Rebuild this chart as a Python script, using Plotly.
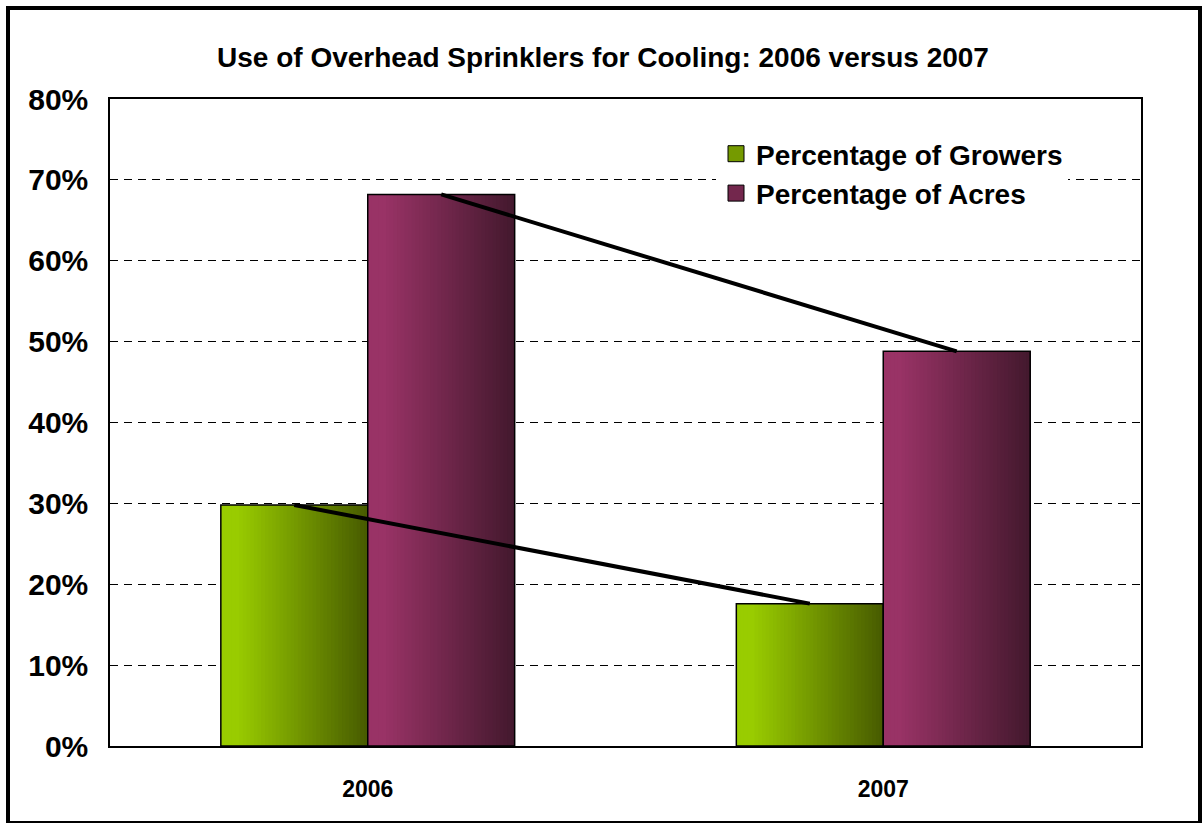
import plotly.graph_objects as go

# ---- data ----
categories = ["2006", "2007"]
growers = [0.298, 0.176]
acres = [0.682, 0.488]
series_names = ["Percentage of Growers", "Percentage of Acres"]

# ---- styling ----
FONT = "Liberation Sans, Arial, sans-serif"
W = 0.285          # width of one bar in category units
N = 40             # gradient strips per bar
green = ((0x99, 0xCC, 0x00), (0x48, 0x5C, 0x00))
purple = ((0x99, 0x33, 0x66), (0x44, 0x19, 0x2E))

L, R, T, B = 110, 61, 99, 77
WIDTH, HEIGHT = 1202, 823
pw, ph = WIDTH - L - R, HEIGHT - T - B


def lerp(c1, c2, t):
    return "rgb(%d,%d,%d)" % tuple(round(a + (b - a) * t) for a, b in zip(c1, c2))


xs = list(range(len(categories)))
fig = go.Figure()

for vals, cols, base in [(growers, green, -W), (acres, purple, 0.0)]:
    for k in range(N):
        t = k / (N - 1)
        t = max(0.0, (t - 0.1) / 0.9)
        fig.add_trace(go.Bar(
            x=xs, y=vals,
            offset=base + k * W / N, width=W - k * W / N,
            marker=dict(color=lerp(cols[0], cols[1], t), line=dict(width=0)),
            showlegend=False, hoverinfo="skip"))
    # outline
    fig.add_trace(go.Bar(
        x=xs, y=vals, offset=base, width=W,
        marker=dict(color="rgba(0,0,0,0)", line=dict(color="black", width=1.5)),
        showlegend=False, hoverinfo="skip"))

# connector lines between bar tops
fig.add_trace(go.Scatter(x=[x - W / 2 for x in xs], y=growers, mode="lines",
                         line=dict(color="black", width=4),
                         showlegend=False, hoverinfo="skip"))
fig.add_trace(go.Scatter(x=[x + W / 2 for x in xs], y=acres, mode="lines",
                         line=dict(color="black", width=4),
                         showlegend=False, hoverinfo="skip"))

# legend entries
for name, cols in zip(series_names, [green, purple]):
    fig.add_trace(go.Scatter(
        x=[None], y=[None], mode="markers", name=name,
        marker=dict(symbol="square", size=16, color=lerp(cols[0], cols[1], 0.45),
                    line=dict(color="black", width=1))))

fig.update_layout(
    width=WIDTH, height=HEIGHT, autosize=False,
    margin=dict(l=L, r=R, t=T, b=B),
    paper_bgcolor="white", plot_bgcolor="white",
    barmode="overlay",
    font=dict(family=FONT, color="black"),
    title=dict(text="Use of Overhead Sprinklers for Cooling: 2006 versus 2007",
               x=(603) / WIDTH, xanchor="center",
               y=1 - 57 / HEIGHT, yanchor="middle", yref="container",
               font=dict(family=FONT, size=28, weight="bold", color="black")),
    legend=dict(x=(716 - L) / pw, y=(HEIGHT - B - 129) / ph,
                xanchor="left", yanchor="top",
                bgcolor="white", borderwidth=0, tracegroupgap=0,
                font=dict(family=FONT, size=28, weight="bold", color="black")),
    xaxis=dict(range=[-0.5, len(categories) - 0.5], tickmode="array",
               tickvals=xs, ticktext=categories,
               showgrid=False, zeroline=False,
               showline=True, mirror=True, linecolor="black", linewidth=1.5,
               ticks="", ticklabelstandoff=22,
               tickfont=dict(family=FONT, size=23, weight="bold", color="black")),
    yaxis=dict(range=[0, 0.8], dtick=0.1, tickformat=".0%",
               showgrid=True, gridcolor="black", gridwidth=1, griddash="8px,6px",
               zeroline=False,
               showline=True, mirror=True, linecolor="black", linewidth=1.5,
               ticks="", ticklabelstandoff=14,
               tickfont=dict(family=FONT, size=30, weight="bold", color="black")),
    shapes=[dict(type="rect", xref="paper", yref="paper",
                 x0=(8 - L) / pw, x1=(1200 - L) / pw,
                 y0=(HEIGHT - B - 823) / ph, y1=(HEIGHT - B - 8) / ph,
                 line=dict(color="black", width=4), fillcolor="rgba(0,0,0,0)",
                 layer="above")],
)

fig.write_html("out.html")
